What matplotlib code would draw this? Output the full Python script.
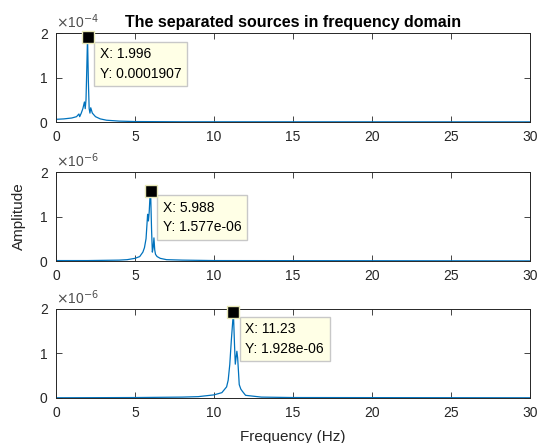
import numpy as np
import matplotlib.pyplot as plt

plt.rcParams['font.family'] = ['Liberation Sans', 'DejaVu Sans']

# spectra of the three separated sources (amplitudes in units of the axis exponent)
top_freq = [0, 0.5, 1.0, 1.3, 1.45, 1.5, 1.6, 1.7, 1.8, 1.85, 1.9, 1.95, 1.996, 2.05,
            2.1, 2.15, 2.2, 2.3, 2.5, 2.8, 3.2, 4, 5, 8, 30]
top_amp = [0.06, 0.07, 0.09, 0.12, 0.18, 0.12, 0.2, 0.3, 0.45, 0.3, 0.5, 1.2, 1.907, 0.9,
           0.3, 0.2, 0.32, 0.2, 0.12, 0.07, 0.04, 0.02, 0.01, 0.005, 0.003]

mid_freq = [0, 2, 4, 4.5, 5, 5.3, 5.5, 5.6, 5.7, 5.8, 5.85, 5.9, 5.95, 5.988, 6.05, 6.1,
            6.15, 6.2, 6.25, 6.3, 6.4, 6.6, 7, 8, 10, 30]
mid_amp = [0.01, 0.01, 0.02, 0.03, 0.06, 0.1, 0.2, 0.3, 0.5, 1.05, 0.9, 1.1, 1.45, 1.577,
           0.7, 0.2, 0.3, 0.52, 0.25, 0.15, 0.1, 0.06, 0.03, 0.02, 0.01, 0.003]

bot_freq = [0, 5, 8, 9, 10, 10.5, 10.8, 10.9, 11.0, 11.1, 11.23, 11.3, 11.35, 11.45, 11.5,
            11.6, 11.7, 11.8, 12, 12.5, 13, 15, 30]
bot_amp = [0.005, 0.01, 0.02, 0.03, 0.07, 0.12, 0.25, 0.4, 0.75, 1.3, 1.928, 1.2, 0.76,
           1.05, 0.9, 0.3, 0.2, 0.15, 0.06, 0.04, 0.02, 0.01, 0.005]

exponents = [-4, -6, -6]
tip_x = [1.996, 5.988, 11.23]
tip_y = [1.907, 1.577, 1.928]
tip_text = ['X: 1.996\nY: 0.0001907', 'X: 5.988\nY: 1.577e-06', 'X: 11.23\nY: 1.928e-06']

line_color = '#0072BD'
ax_color = '#262626'

fig = plt.figure(figsize=(5.41, 4.43), dpi=100)
bottoms = [0.7246, 0.4108, 0.1016]
series = [(top_freq, top_amp), (mid_freq, mid_amp), (bot_freq, bot_amp)]

for i, (f, a) in enumerate(series):
    ax = fig.add_axes([0.1035, bottoms[i], 0.876, 0.2009])
    ax.plot(f, a, color=line_color, lw=0.9)
    ax.set_xlim(0, 30)
    ax.set_ylim(0, 2)
    ax.set_xticks([0, 5, 10, 15, 20, 25, 30])
    ax.set_yticks([0, 1, 2])
    ax.tick_params(direction='in', top=True, right=True, length=4.5, width=0.6,
                   colors=ax_color, labelsize=10, pad=6)
    for s in ax.spines.values():
        s.set_color(ax_color)
        s.set_linewidth(0.7)
    ax.text(0.0, 1.02, r'$\times$10$^{%d}$' % exponents[i], transform=ax.transAxes,
            fontsize=10, color='#4d4d4d', ha='left', va='bottom')
    # data tip
    ax.plot(tip_x[i], tip_y[i], marker='s', ms=8.5, color='black',
            mec='#e8e8b8', mew=1, clip_on=False, zorder=5)
    ax.annotate(tip_text[i], xy=(tip_x[i], tip_y[i]), xytext=(12, -10),
                textcoords='offset pixels', ha='left', va='top', fontsize=10,
                linespacing=1.5, color='black',
                bbox=dict(boxstyle='square,pad=0.4', fc='#ffffe6', ec='#c8c8c8', lw=1))
    if i == 0:
        ax.set_title('The separated sources in frequency domain', fontsize=11.5,
                     fontweight='bold', color='black', pad=4)
    if i == 1:
        ax.set_ylabel('Amplitude', fontsize=11, color=ax_color, labelpad=10)
    if i == 2:
        ax.set_xlabel('Frequency (Hz)', fontsize=11, color=ax_color, labelpad=7)

fig.savefig('out.png', dpi=100)
